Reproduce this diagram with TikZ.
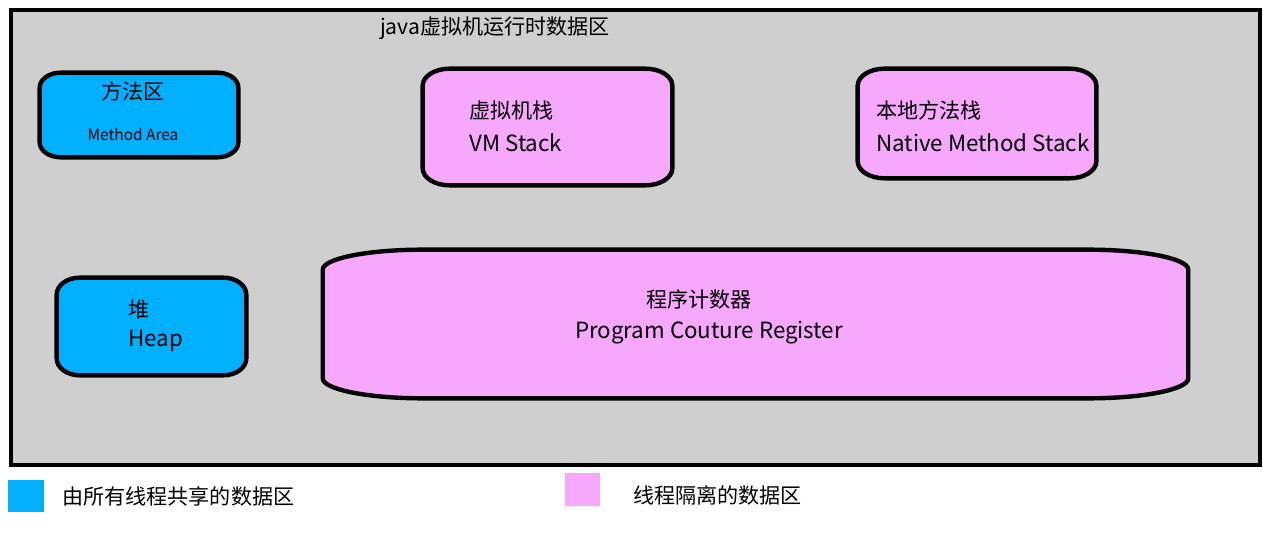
\documentclass[tikz,border=0pt]{standalone}
\usepackage{fontspec}
\setmainfont{Noto Sans CJK SC}
\usetikzlibrary{positioning,calc}
\definecolor{shared}{RGB}{0,176,255}
\definecolor{isolated}{RGB}{245,168,252}
\definecolor{bggray}{RGB}{207,207,207}

\begin{document}
\begin{tikzpicture}
	[ x=0.02cm, y=0.02cm,
	  area/.style={ draw=none, fill=none, inner sep=0pt, rectangle },
	  txt/.style={ inner sep=0pt, font=\fontsize{12}{14}\selectfont },
	  entxt/.style={ inner sep=0pt, font=\fontsize{12.7}{15}\selectfont },
	  small/.style={ inner sep=0pt, font=\fontsize{8.8}{10}\selectfont },
	  key/.style={ draw=none, inner sep=0pt, minimum width=0.71cm, minimum height=0.66cm },
	  frame/.style={ draw, line width=2.5pt, fill=bggray, inner sep=0pt }
	]
	\useasboundingbox (0,0) rectangle (1263,-546);
	\node[frame, minimum width=24.98cm, minimum height=9.1cm] (jvm) at (635.5,-237.5) {};
	\node[txt] (title) at (495,-28) {java虚拟机运行时数据区};

	% placeholders for the regions
	\node[area, minimum width=3.96cm, minimum height=1.68cm] (ma) at (139,-115) {};
	\node[area, minimum width=4.98cm, minimum height=2.32cm] (vms) at (547.5,-127) {};
	\node[area, minimum width=4.76cm, minimum height=2.18cm] (nms) at (977,-123.5) {};
	\node[area, minimum width=3.78cm, minimum height=1.94cm] (heap) at (151.5,-326.5) {};
	\node[area, minimum width=17.3cm, minimum height=2.96cm] (pc) at (755.5,-324) {};

	\foreach \n/\rx/\ry/\c in {ma/21/15/shared, vms/27/17/isolated, nms/27/17/isolated,
			heap/23/17/shared, pc/100/20/isolated}{
		\filldraw[fill=\c, line width=2.5pt]
			([xshift=\rx*0.02cm]\n.north west) -- ([xshift=-\rx*0.02cm]\n.north east)
			arc[start angle=90, end angle=0, x radius=\rx, y radius=\ry]
			-- ([yshift=\ry*0.02cm]\n.south east)
			arc[start angle=0, end angle=-90, x radius=\rx, y radius=\ry]
			-- ([xshift=\rx*0.02cm]\n.south west)
			arc[start angle=270, end angle=180, x radius=\rx, y radius=\ry]
			-- ([yshift=-\ry*0.02cm]\n.north west)
			arc[start angle=180, end angle=90, x radius=\rx, y radius=\ry] -- cycle;
	}

	\node[txt] (ma-cn) at (133,-91) {方法区};
	\node[small] (ma-en) at (133,-134) {Method Area};
	\node[txt, anchor=west] (vms-cn) at (469,-110) {虚拟机栈};
	\node[entxt, anchor=west] (vms-en) at (469,-143) {VM Stack};
	\node[txt, anchor=west] (nms-cn) at (876,-110) {本地方法栈};
	\node[entxt, anchor=west] (nms-en) at (876,-143) {Native Method Stack};
	\node[txt, anchor=west] (heap-cn) at (128,-310) {堆};
	\node[entxt, anchor=west] (heap-en) at (128,-341) {Heap};
	\node[txt] (pc-cn) at (699,-299) {程序计数器};
	\node[entxt] (pc-en) at (709,-333) {Program Couture Register};

	% legend
	\node[key, fill=shared] (k1) at (26,-496) {};
	\node[txt, anchor=west] (k1-txt) at (62,-496) {由所有线程共享的数据区};
	\node[key, fill=isolated] (k2) at (582.5,-489.5) {};
	\node[txt, anchor=west] (k2-txt) at (633,-495) {线程隔离的数据区};
\end{tikzpicture}
\end{document}
